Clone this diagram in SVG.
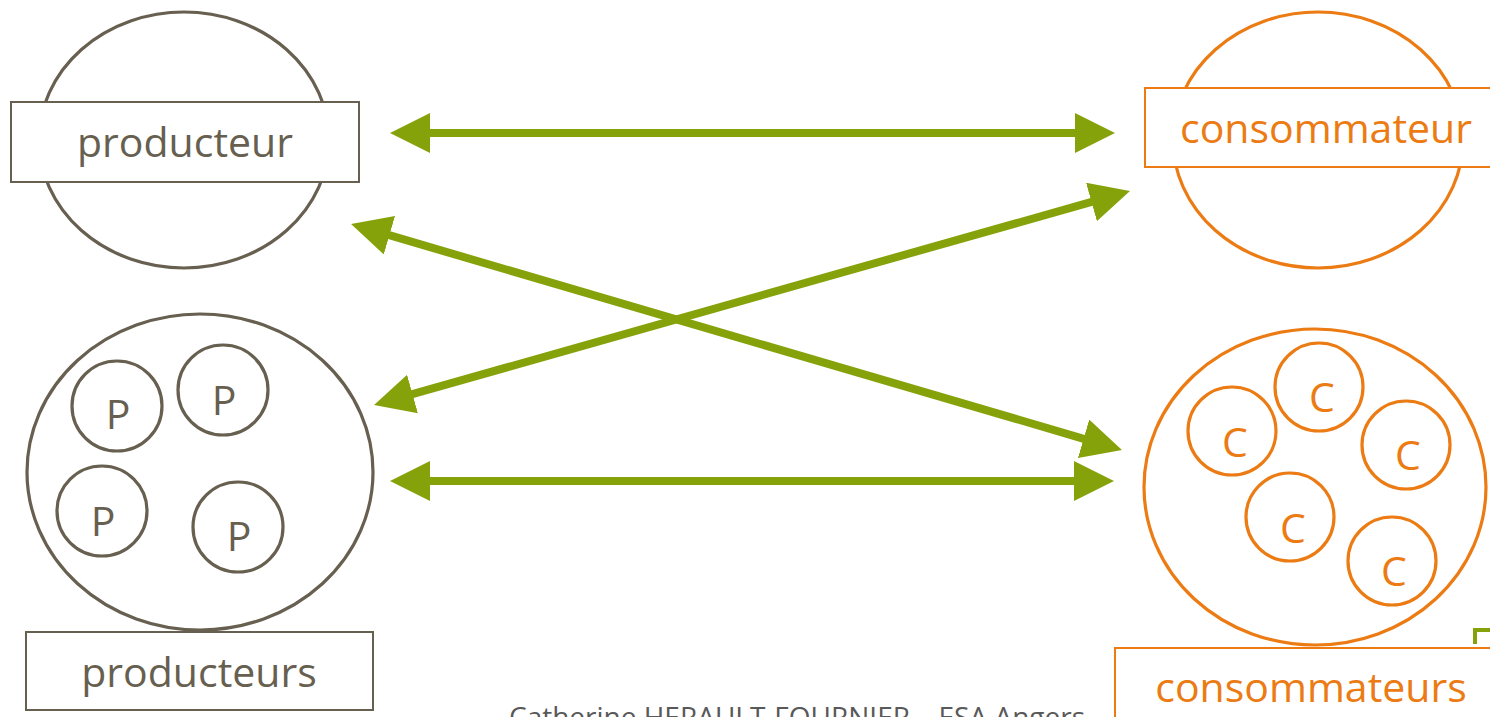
<svg xmlns="http://www.w3.org/2000/svg" width="1490" height="717" viewBox="0 0 1490 717">
<defs>
<style>
.txt{font-family:"Open Sans","Liberation Sans",sans-serif;font-size:41px;text-anchor:middle}
.prod{fill:none;stroke:#675F50;stroke-width:3.2}
.cons{fill:none;stroke:#EB7B12;stroke-width:3.2}
.pbox{fill:#fff;stroke:#675F50;stroke-width:2}
.cbox{fill:#fff;stroke:#EB7B12;stroke-width:2}
.pt{fill:#675F50}
.ct{fill:#EB7B12}
.conn{stroke:#86A20A;stroke-width:8;fill:none;marker-start:url(#ah);marker-end:url(#ah)}
</style>
<marker id="ah" viewBox="0 0 40 40" markerWidth="40" markerHeight="40" markerUnits="userSpaceOnUse" refX="2" refY="20" orient="auto-start-reverse">
<path d="M0,0 L40,20 L0,40 Z" fill="#86A20A"/>
</marker>
</defs>
<rect width="1490" height="717" fill="#fff"/>

<g id="producteur">
<ellipse class="prod" cx="184" cy="140" rx="145" ry="128"/>
<rect class="pbox" x="11" y="102" width="348" height="80"/>
<text class="txt pt" x="185" y="157">producteur</text>
</g>

<g id="consommateur">
<ellipse class="cons" cx="1318" cy="140" rx="145" ry="128"/>
<rect class="cbox" x="1145" y="88" width="360" height="79"/>
<text class="txt ct" x="1326" y="143">consommateur</text>
</g>

<g id="producteurs">
<ellipse class="prod" cx="200" cy="472" rx="173" ry="158"/>
<circle class="prod" cx="117" cy="406" r="45"/>
<circle class="prod" cx="223" cy="390" r="45"/>
<circle class="prod" cx="102" cy="511" r="45"/>
<circle class="prod" cx="238" cy="527" r="45"/>
<text class="txt pt" x="118" y="429">P</text>
<text class="txt pt" x="224" y="415">P</text>
<text class="txt pt" x="103" y="536">P</text>
<text class="txt pt" x="239" y="551">P</text>
<rect class="pbox" x="26" y="632" width="347" height="78"/>
<text class="txt pt" x="199" y="687">producteurs</text>
</g>

<g id="consommateurs">
<ellipse class="cons" cx="1315" cy="487" rx="171" ry="158"/>
<circle class="cons" cx="1232" cy="431" r="44"/>
<circle class="cons" cx="1319" cy="387" r="44"/>
<circle class="cons" cx="1406" cy="445" r="44"/>
<circle class="cons" cx="1290" cy="517" r="44"/>
<circle class="cons" cx="1392" cy="561" r="44"/>
<text class="txt ct" x="1235" y="457">C</text>
<text class="txt ct" x="1322" y="412">C</text>
<text class="txt ct" x="1408" y="470">C</text>
<text class="txt ct" x="1293" y="543">C</text>
<text class="txt ct" x="1394" y="586">C</text>
<rect class="cbox" x="1115" y="648" width="390" height="90"/>
<text class="txt ct" x="1311" y="702">consommateurs</text>
</g>

<g id="connectors">
<line class="conn" x1="428" y1="133" x2="1077" y2="133"/>
<line class="conn" x1="428" y1="481" x2="1076" y2="481"/>
<line class="conn" x1="387.5" y1="234.7" x2="1085.5" y2="439.3"/>
<line class="conn" x1="410.6" y1="394.6" x2="1093.4" y2="201.4"/>
</g>

<path d="M1475,644 V630 H1492" fill="none" stroke="#86A20A" stroke-width="4"/>

<text x="509" y="727" font-family="'Open Sans','Liberation Sans',sans-serif" font-size="28" fill="#595959" textLength="576" lengthAdjust="spacingAndGlyphs">Catherine HERAULT-FOURNIER – ESA Angers</text>
</svg>
